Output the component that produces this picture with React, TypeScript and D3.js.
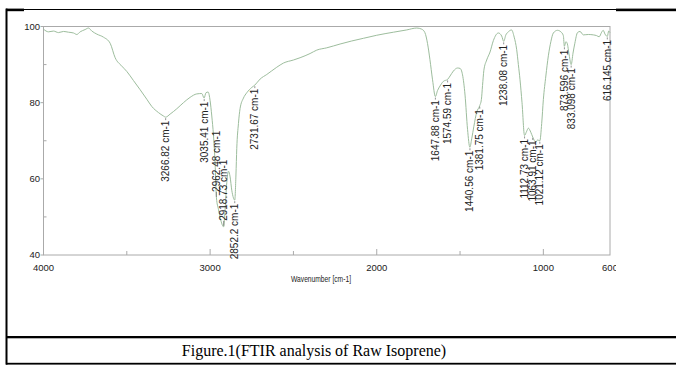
import React, { useEffect, useRef } from 'react';
import * as d3 from 'd3';

// spectrum trace (wavenumber in cm-1, transmittance in %)
const wavenumbers = [
  4000, 3970, 3940, 3910, 3880, 3850, 3820, 3800, 3780, 3750, 3730, 3710, 3680, 3640, 3600, 3570,
  3530, 3500, 3460, 3420, 3380, 3350, 3310, 3280, 3267, 3240, 3200, 3160, 3120, 3080, 3050, 3036,
  3025, 3012, 3000, 2990, 2980, 2970, 2962, 2950, 2935, 2919, 2910, 2900, 2890, 2880, 2870, 2860,
  2852, 2845, 2840, 2830, 2820, 2800, 2780, 2750, 2732, 2700, 2660, 2600, 2560, 2500, 2460, 2400,
  2360, 2300, 2220, 2150, 2080, 2000, 1900, 1820, 1760, 1730, 1711, 1695, 1681, 1665, 1648, 1635,
  1620, 1600, 1575, 1560, 1540, 1515, 1500, 1485, 1470, 1455, 1441, 1430, 1417, 1400, 1382, 1372,
  1365, 1357, 1340, 1320, 1300, 1270, 1250, 1238, 1225, 1210, 1191, 1175, 1160, 1150, 1140, 1128,
  1113, 1100, 1090, 1075, 1064, 1045, 1035, 1021, 1010, 1000, 985, 970, 955, 940, 915, 895,
  880, 874, 865, 857, 845, 833, 822, 811, 795, 780, 760, 730, 700, 680, 665, 650,
  641, 630, 621, 616, 608, 600
];
const transmittance = [
  99.3, 98.6, 98.8, 98.4, 98.7, 98.5, 98.3, 97.9, 98.6, 99.2, 99.6, 98.8, 98.0, 97.2, 95.6, 91.8,
  89.6, 88.2, 85.8, 83.4, 80.9, 79.0, 77.4, 76.5, 76.2, 77.0, 78.4, 80.0, 81.4, 82.3, 82.4, 81.2,
  82.6, 82.8, 80.5, 76.5, 71.5, 64.0, 55.0, 52.0, 49.0, 47.4, 52.0, 59.0, 62.0, 60.5, 57.0, 55.0,
  54.4, 61.0, 68.0, 74.5, 78.5, 81.2, 82.6, 84.0, 84.6, 86.2, 87.4, 89.3, 90.4, 91.2, 91.8, 92.9,
  93.8, 94.4, 95.4, 96.2, 96.9, 97.7, 98.5, 99.1, 99.6, 99.3, 98.4, 95.5, 91.4, 86.0, 81.6, 83.2,
  84.4, 85.6, 86.1, 87.0, 88.3, 89.1, 89.0, 87.3, 82.0, 73.0, 68.3, 70.5, 73.8, 77.5, 79.2, 80.8,
  84.5, 88.5, 91.2, 93.3, 96.3, 98.3, 97.5, 96.1, 97.8, 98.6, 99.1, 97.2, 93.9, 90.0, 86.0, 80.0,
  71.4, 72.5, 73.3, 72.2, 71.0, 69.6, 70.2, 70.0, 74.5, 80.8, 87.0, 92.3, 96.0, 98.3, 99.0, 98.6,
  97.6, 94.8, 96.0, 95.6, 92.5, 90.0, 93.0, 95.6, 98.4, 98.7, 97.8, 97.9, 97.8, 97.6, 97.3, 98.5,
  99.0, 98.0, 97.5, 97.4, 98.8, 98.4
];

// picked peaks
const peakWavenumbers = [3266.82, 3035.41, 2962.48, 2918.73, 2852.2, 2731.67, 1647.88, 1574.59, 1440.56, 1381.75, 1238.08, 1112.73, 1063.91, 1021.12, 873.596, 833.098, 616.145];
const peakTransmittance = [76.2, 81.2, 55.0, 47.4, 54.4, 84.6, 81.6, 86.1, 68.3, 79.2, 96.1, 71.4, 71.0, 70.0, 94.8, 90.0, 97.4];
const peakLabels = ['3266.82 cm-1', '3035.41 cm-1', '2962.48 cm-1', '2918.73 cm-1', '2852.2 cm-1', '2731.67 cm-1', '1647.88 cm-1', '1574.59 cm-1', '1440.56 cm-1', '1381.75 cm-1', '1238.08 cm-1', '1112.73 cm-1', '1063.91 cm-1', '1021.12 cm-1', '873.596 cm-1', '833.098 cm-1', '616.145 cm-1'];
// labels that sit above their peak instead of below
const peakAbove = [false, false, true, true, false, false, false, false, false, false, false, false, false, false, false, false, false];

const xTicks = [4000, 3000, 2000, 1000, 600];
const xMinorTicks = [3500, 2500, 1500];
const yTicks = [100, 80, 60, 40];
const yMinorTicks = [90, 70, 50];
const xTitle = 'Wavenumber [cm-1]';
const caption = 'Figure.1(FTIR analysis of Raw Isoprene)';

const W = 676;
const H = 365;
const sans = '"Liberation Sans", Arial, sans-serif';

export default function App() {
  const ref = useRef<SVGSVGElement>(null);

  useEffect(() => {
    const svg = d3.select(ref.current);
    svg.selectAll('*').remove();

    const x = d3.scaleLinear().domain([4000, 600]).range([43.5, 610]);
    const y = d3.scaleLinear().domain([40, 100]).range([255, 26.5]);

    // table borders around the figure
    const frame = svg.append('g').attr('fill', '#000');
    frame.append('rect').attr('x', 6).attr('y', 9).attr('width', 670).attr('height', 1);
    frame.append('rect').attr('x', 6).attr('y', 8.6).attr('width', 18).attr('height', 2.6);
    frame.append('rect').attr('x', 616).attr('y', 8.6).attr('width', 60).attr('height', 2.6);
    frame.append('rect').attr('x', 5.5).attr('y', 8.6).attr('width', 2).attr('height', 356);
    frame.append('rect').attr('x', 6).attr('y', 336).attr('width', 670).attr('height', 2.3);
    frame.append('rect').attr('x', 6).attr('y', 362.8).attr('width', 670).attr('height', 1.8);

    svg.append('defs').append('clipPath').attr('id', 'figclip')
      .append('rect').attr('x', 8).attr('y', 12).attr('width', 608).attr('height', 320);

    const g = svg.append('g').attr('clip-path', 'url(#figclip)');

    // plot box
    g.append('rect')
      .attr('x', x(4000)).attr('y', y(100))
      .attr('width', x(600) - x(4000)).attr('height', y(40) - y(100))
      .attr('fill', 'none').attr('stroke', '#aaa').attr('stroke-width', 1);

    // x ticks
    g.selectAll('.xt').data(xTicks.filter(d => d !== 4000 && d !== 600)).enter()
      .append('line')
      .attr('x1', d => x(d)).attr('x2', d => x(d))
      .attr('y1', y(40)).attr('y2', y(40) - 6)
      .attr('stroke', '#aaa');
    g.selectAll('.xm').data(xMinorTicks).enter()
      .append('line')
      .attr('x1', d => x(d)).attr('x2', d => x(d))
      .attr('y1', y(40)).attr('y2', y(40) - 4)
      .attr('stroke', '#aaa');
    g.selectAll('.xl').data(xTicks).enter()
      .append('text')
      .attr('x', d => x(d)).attr('y', 271)
      .attr('text-anchor', 'middle')
      .attr('font-family', sans).attr('font-size', 9.5).attr('fill', '#222')
      .text(d => d);

    // y ticks
    g.selectAll('.yt').data(yTicks).enter()
      .append('line')
      .attr('x1', x(4000) - 3).attr('x2', x(4000))
      .attr('y1', d => y(d)).attr('y2', d => y(d))
      .attr('stroke', '#aaa');
    g.selectAll('.ym').data(yMinorTicks).enter()
      .append('line')
      .attr('x1', x(4000)).attr('x2', x(4000) + 3)
      .attr('y1', d => y(d)).attr('y2', d => y(d))
      .attr('stroke', '#aaa');
    g.selectAll('.yl').data(yTicks).enter()
      .append('text')
      .attr('x', x(4000) - 3.5).attr('y', d => y(d))
      .attr('dy', '0.35em')
      .attr('text-anchor', 'end')
      .attr('font-family', sans).attr('font-size', 9.5).attr('fill', '#222')
      .text(d => d);

    g.append('text')
      .attr('x', 321).attr('y', 282)
      .attr('text-anchor', 'middle')
      .attr('font-family', sans).attr('font-size', 8.5).attr('fill', '#222')
      .attr('textLength', 60).attr('lengthAdjust', 'spacingAndGlyphs')
      .text(xTitle);

    // spectrum
    const line = d3.line<number>()
      .x(i => x(wavenumbers[i]))
      .y(i => y(transmittance[i]))
      .curve(d3.curveMonotoneX);
    g.append('path')
      .attr('d', line(d3.range(wavenumbers.length)))
      .attr('fill', 'none')
      .attr('stroke', '#9dbd9d')
      .attr('stroke-width', 1);

    // peak labels
    const peaks = g.selectAll('.pk').data(d3.range(peakWavenumbers.length)).enter().append('g');
    peaks.append('line')
      .attr('x1', i => x(peakWavenumbers[i])).attr('x2', i => x(peakWavenumbers[i]))
      .attr('y1', i => y(peakTransmittance[i]) + (peakAbove[i] ? -1 : 1))
      .attr('y2', i => y(peakTransmittance[i]) + (peakAbove[i] ? -6 : 3))
      .attr('stroke', '#777').attr('stroke-width', 0.8);
    peaks.append('text')
      .attr('transform', i => {
        const px = x(peakWavenumbers[i]);
        const py = y(peakTransmittance[i]) + (peakAbove[i] ? -6 : 3.5);
        return `translate(${px},${py}) rotate(-90)`;
      })
      .attr('dy', '0.35em')
      .attr('text-anchor', i => (peakAbove[i] ? 'start' : 'end'))
      .attr('font-family', sans).attr('font-size', 10).attr('fill', '#222')
      .text(i => peakLabels[i]);

    svg.append('text')
      .attr('x', 314).attr('y', 355.5)
      .attr('text-anchor', 'middle')
      .attr('font-family', '"Liberation Serif", "Times New Roman", serif')
      .attr('font-size', 16).attr('fill', '#000')
      .text(caption);
  }, []);

  return (
    <svg
      ref={ref}
      width={W}
      height={H}
      style={{ position: 'absolute', left: 0, top: 0, background: '#fff' }}
    />
  );
}
